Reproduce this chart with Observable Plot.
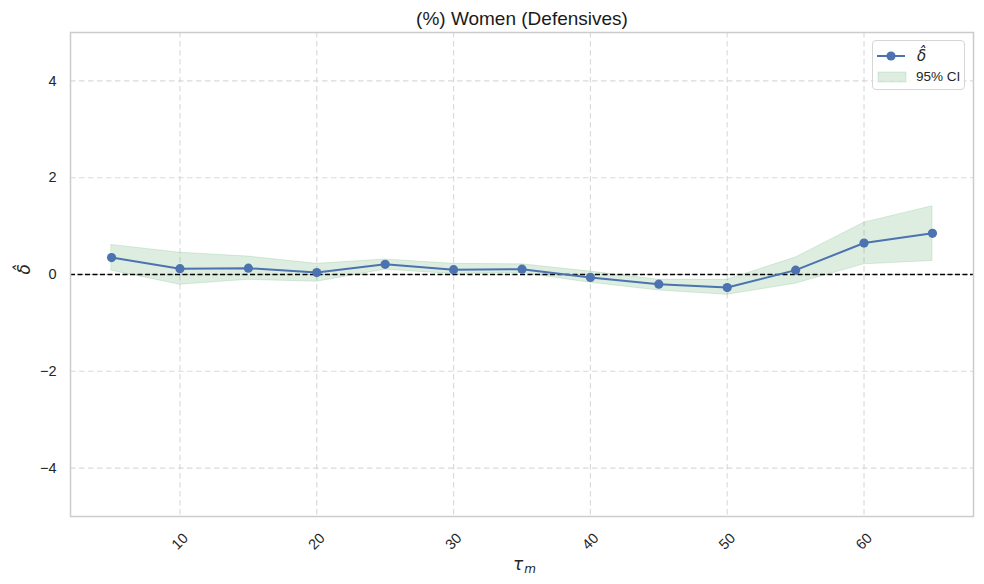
<!DOCTYPE html>
<html>
<head>
<meta charset="utf-8">
<script src="https://cdn.jsdelivr.net/npm/d3@7"></script>
<script src="https://cdn.jsdelivr.net/npm/@observablehq/plot@0.6"></script>
<style>
  html, body { margin: 0; padding: 0; background: #fff; }
  #wrap { position: relative; width: 984px; height: 584px; font-family: "Liberation Sans", Arial, sans-serif; }
  #legend { position: absolute; left: 872px; top: 40px; width: 93px; height: 50px; box-sizing: border-box;
    border: 1px solid #d6d6d6; border-radius: 4px; background: rgba(255,255,255,0.85); }
  #legend svg { position: absolute; left: 0; top: 0; }
</style>
</head>
<body>
<div id="wrap"></div>
<script>
const tau   = [5, 10, 15, 20, 25, 30, 35, 40, 45, 50, 55, 60, 65];
const delta = [0.35, 0.12, 0.13, 0.04, 0.21, 0.10, 0.11, -0.06, -0.20, -0.27, 0.09, 0.65, 0.85];
const ciLow = [0.08, -0.21, -0.11, -0.15, 0.10, 0.01, 0.03, -0.17, -0.33, -0.42, -0.19, 0.21, 0.28];
const ciHigh= [0.61, 0.45, 0.37, 0.22, 0.31, 0.22, 0.21, 0.06, -0.11, -0.11, 0.35, 1.07, 1.41];
const xTicks = [10, 20, 30, 40, 50, 60];
const yTicks = [-4, -2, 0, 2, 4];
const titleText = "(%) Women (Defensives)";

const rows = tau.map((t, i) => ({tau: t, delta: delta[i], lo: ciLow[i], hi: ciHigh[i]}));
const blue = "#4c72b0", green = "#55a868";
const textColor = "#262626";

const chart = Plot.plot({
  width: 984, height: 584,
  marginLeft: 70, marginRight: 11, marginTop: 32, marginBottom: 68,
  style: {fontFamily: "'Liberation Sans', Arial, sans-serif", background: "#fff", color: textColor},
  x: {domain: [2, 68]},
  y: {domain: [-5, 5]},
  marks: [
    Plot.gridX(xTicks, {stroke: "#d0d0d0", strokeOpacity: 0.8, strokeWidth: 1.1, strokeDasharray: "5.5,3.5"}),
    Plot.gridY(yTicks, {stroke: "#d0d0d0", strokeOpacity: 0.8, strokeWidth: 1.1, strokeDasharray: "5.5,3.5"}),
    Plot.areaY(rows, {x: "tau", y1: "lo", y2: "hi", fill: green, fillOpacity: 0.2, stroke: green, strokeOpacity: 0.2}),
    Plot.ruleY([0], {stroke: "#000", strokeWidth: 1.3, strokeDasharray: "5,2.5"}),
    Plot.line(rows, {x: "tau", y: "delta", stroke: blue, strokeWidth: 2}),
    Plot.dot(rows, {x: "tau", y: "delta", fill: blue, r: 4.6, stroke: "none"}),
    Plot.frame({stroke: "#cccccc", strokeWidth: 1.5}),
    Plot.axisY(yTicks, {tickSize: 0, tickPadding: 14, fontSize: 14.5, fill: textColor,
      tickFormat: d => String(d).replace("-", "\u2212"), label: null}),
    Plot.axisX([], {label: null, tickSize: 0}),
    Plot.text(xTicks, {x: d => d, frameAnchor: "bottom", dy: 25, rotate: -45, text: d => String(d),
      fontSize: 14.5, fill: textColor, textAnchor: "middle", lineAnchor: "middle"}),
    Plot.text([titleText], {frameAnchor: "top", dy: -14, text: d => d, fontSize: 19, fill: "#1a1a1a", lineAnchor: "middle"}),
    Plot.text(["\u03C4"], {frameAnchor: "bottom", dx: -4, dy: 48, text: d => d, fontSize: 17,
      fontFamily: "DejaVu Sans", fontStyle: "italic", fill: textColor, lineAnchor: "middle"}),
    Plot.text(["m"], {frameAnchor: "bottom", dx: 8, dy: 53, text: d => d, fontSize: 12,
      fontFamily: "DejaVu Sans", fontStyle: "italic", fill: textColor, lineAnchor: "middle"}),
    Plot.text(["\u03B4\u0302"], {frameAnchor: "left", dx: -46, dy: 0, rotate: -90, text: d => d, fontSize: 17,
      fontFamily: "DejaVu Sans", fontStyle: "italic", fill: textColor, lineAnchor: "middle"})
  ]
});

const wrap = document.getElementById("wrap");
wrap.appendChild(chart);

const legend = document.createElement("div");
legend.id = "legend";
legend.innerHTML = `
<svg width="93" height="50" xmlns="http://www.w3.org/2000/svg">
  <line x1="4" y1="15" x2="32" y2="15" stroke="${blue}" stroke-width="2"/>
  <circle cx="18" cy="15" r="4.6" fill="${blue}"/>
  <text x="44" y="15" dominant-baseline="middle" font-family="DejaVu Sans" font-style="italic" font-size="15" fill="${textColor}">\u03B4\u0302</text>
  <rect x="5" y="31" width="28" height="10" fill="${green}" fill-opacity="0.2" stroke="${green}" stroke-opacity="0.2"/>
  <text x="43" y="36" dominant-baseline="middle" font-family="Liberation Sans, Arial, sans-serif" font-size="13.5" fill="${textColor}">95% CI</text>
</svg>`;
wrap.appendChild(legend);
</script>
</body>
</html>
